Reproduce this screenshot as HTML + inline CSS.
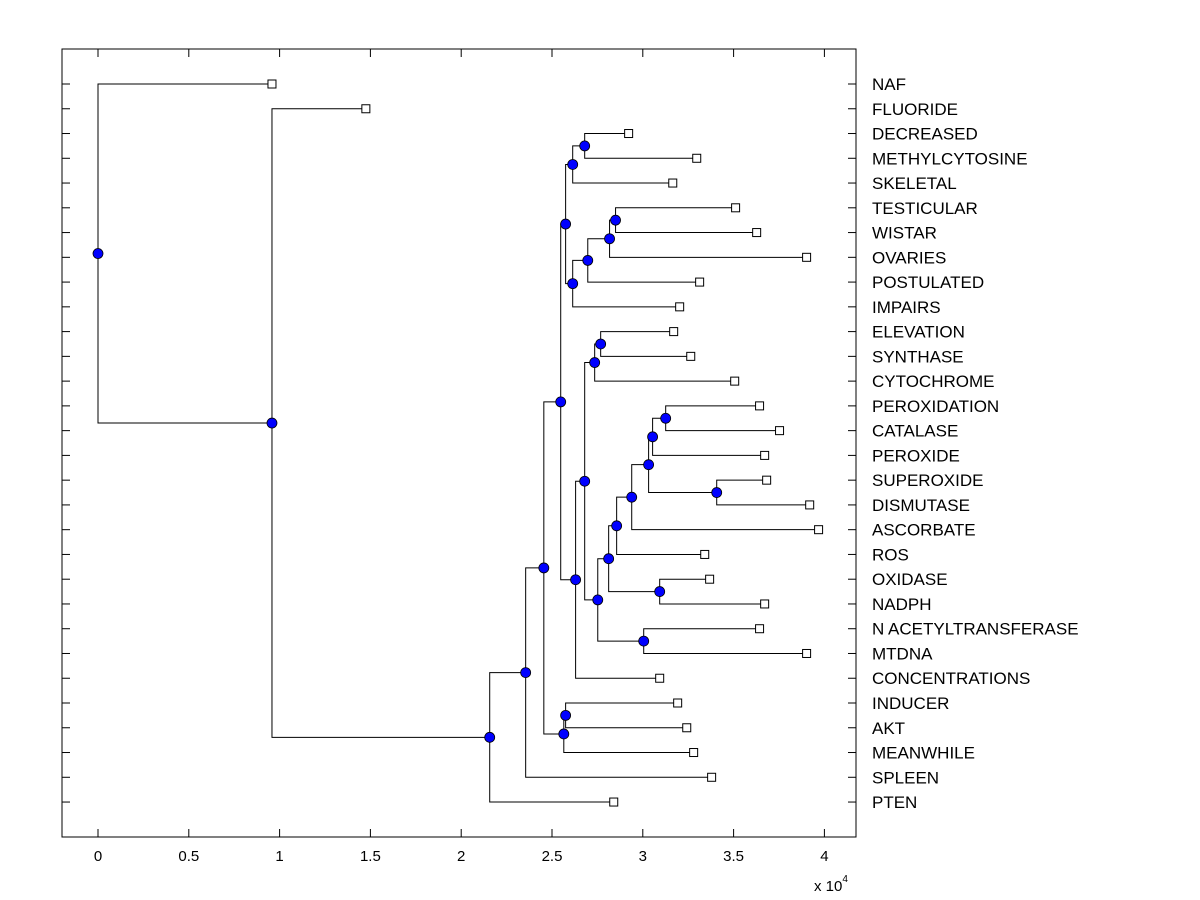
<!DOCTYPE html>
<html><head><meta charset="utf-8"><style>
body{margin:0;background:#fff;}
svg{display:block;font-family:"Liberation Sans",Arial,sans-serif;}
</style></head><body>
<svg id="chart" width="1200" height="900" viewBox="0 0 1200 900">
<rect x="0" y="0" width="1200" height="900" fill="#fff"/>
<g id="tree"></g>
<g id="axes"></g>
</svg>
<script>
// Leaf labels (top to bottom) and their heights (x, in units of 1e4)
const leafNames = ["NAF","FLUORIDE","DECREASED","METHYLCYTOSINE","SKELETAL","TESTICULAR","WISTAR","OVARIES","POSTULATED","IMPAIRS","ELEVATION","SYNTHASE","CYTOCHROME","PEROXIDATION","CATALASE","PEROXIDE","SUPEROXIDE","DISMUTASE","ASCORBATE","ROS","OXIDASE","NADPH","N ACETYLTRANSFERASE","MTDNA","CONCENTRATIONS","INDUCER","AKT","MEANWHILE","SPLEEN","PTEN"];
const leafValues = [0.958,1.475,2.922,3.297,3.165,3.511,3.627,3.902,3.313,3.203,3.170,3.264,3.506,3.643,3.753,3.671,3.682,3.919,3.968,3.341,3.368,3.671,3.643,3.902,3.093,3.192,3.242,3.280,3.379,2.840];
const xTicks = [0,0.5,1,1.5,2,2.5,3,3.5,4];
// Nodes: [id, childA, childB, merge value (1e4 units)]
const nodeDefs = [
 ["n12","DECREASED","METHYLCYTOSINE",2.680],
 ["n10","n12","SKELETAL",2.614],
 ["n15","TESTICULAR","WISTAR",2.850],
 ["n14","n15","OVARIES",2.817],
 ["n13","n14","POSTULATED",2.697],
 ["n11","n13","IMPAIRS",2.614],
 ["n8","n10","n11",2.575],
 ["n19","ELEVATION","SYNTHASE",2.768],
 ["n17","n19","CYTOCHROME",2.735],
 ["n28","PEROXIDATION","CATALASE",3.126],
 ["n26","n28","PEROXIDE",3.054],
 ["n27","SUPEROXIDE","DISMUTASE",3.407],
 ["n25","n26","n27",3.032],
 ["n24","n25","ASCORBATE",2.939],
 ["n22","n24","ROS",2.856],
 ["n23","OXIDASE","NADPH",3.093],
 ["n20","n22","n23",2.812],
 ["n21","N ACETYLTRANSFERASE","MTDNA",3.005],
 ["n18","n20","n21",2.752],
 ["n16","n17","n18",2.680],
 ["n9","n16","CONCENTRATIONS",2.630],
 ["n5","n8","n9",2.548],
 ["n7","INDUCER","AKT",2.575],
 ["n6","n7","MEANWHILE",2.565],
 ["n4","n5","n6",2.455],
 ["n3","n4","SPLEEN",2.355],
 ["n2","n3","PTEN",2.157],
 ["n1","FLUORIDE","n2",0.958],
 ["root","NAF","n1",0.000]
];
(function(){
  const NS="http://www.w3.org/2000/svg";
  const tree=document.getElementById('tree'), axes=document.getElementById('axes');
  const X0=62,X1=856,Y0=49,Y1=837;
  const xs=v=>98+v*181.6;
  const rowY=i=>84+i*24.76;
  const mk=(t,a,p)=>{const e=document.createElementNS(NS,t);for(const k in a)e.setAttribute(k,a[k]);(p||tree).appendChild(e);return e;};
  const pos={};
  leafNames.forEach((n,i)=>{pos[n]={x:leafValues[i],y:rowY(i)};});
  const dots=[];
  nodeDefs.forEach(d=>{
    const a=pos[d[1]],b=pos[d[2]],v=d[3];
    const y=(a.y+b.y)/2;
    pos[d[0]]={x:v,y:y};
    const p=mk('path',{d:`M${xs(a.x)},${a.y}H${xs(v)}V${b.y}H${xs(b.x)}`,fill:'none',stroke:'#000','stroke-width':1});
    
    
    dots.push([d[0],v,y]);
  });
  leafNames.forEach((n,i)=>{
    const r=mk('rect',{x:xs(leafValues[i])-4,y:rowY(i)-4,width:8,height:8,fill:'#fff',stroke:'#000','stroke-width':1});
    
    
    const t=mk('text',{x:872,y:rowY(i)+6,'font-size':17,fill:'#000'},axes);
    t.textContent=n;
    
    
    const l1=mk('line',{x1:X0,x2:X0+8,y1:rowY(i),y2:rowY(i),stroke:'#000'},axes);
    
    
    const l2=mk('line',{x1:X1-8,x2:X1,y1:rowY(i),y2:rowY(i),stroke:'#000'},axes);
    
    
  });
  dots.forEach(d=>{
    const c=mk('circle',{cx:xs(d[1]),cy:d[2],r:5,fill:'#0000ff',stroke:'#000','stroke-width':0.8});
    
    
  });
  const box=mk('rect',{x:X0,y:Y0,width:X1-X0,height:Y1-Y0,fill:'none',stroke:'#000','stroke-width':1},axes);
  
  
  xTicks.forEach(v=>{
    const x=xs(v);
    const a=mk('line',{x1:x,x2:x,y1:Y1,y2:Y1-8,stroke:'#000'},axes);
    
    
    const b=mk('line',{x1:x,x2:x,y1:Y0,y2:Y0+8,stroke:'#000'},axes);
    
    
    const t=mk('text',{x:x,y:861,'font-size':15,'text-anchor':'middle'},axes);
    t.textContent=String(v);
    
    
  });
  const e=mk('text',{x:814,y:891,'font-size':15},axes);
  e.innerHTML='x 10<tspan font-size="10" dy="-9">4</tspan>';
  
  
})();
</script>
</body></html>
